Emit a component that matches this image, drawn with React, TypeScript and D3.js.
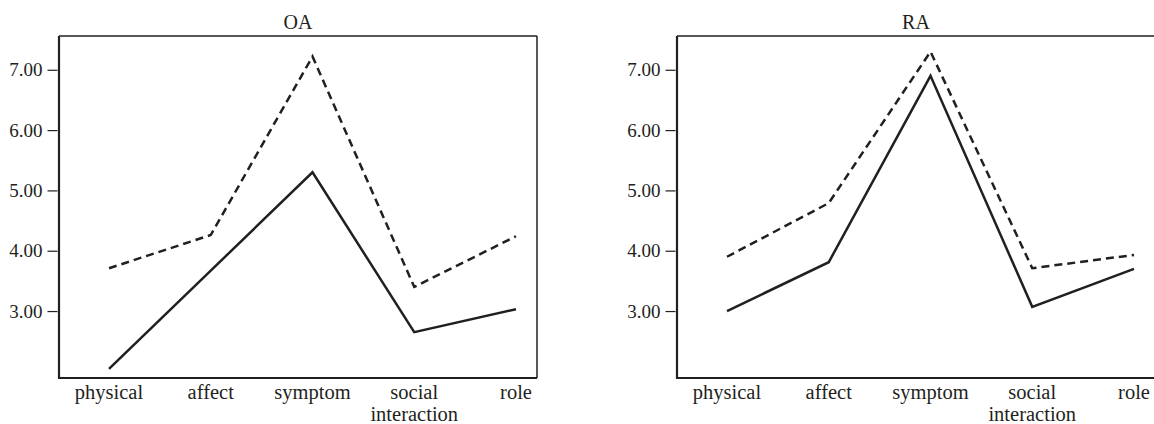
import React, { useEffect, useRef } from 'react'
import * as d3 from 'd3'

const categories = ['physical', 'affect', 'symptom', 'social interaction', 'role']
const panels = ['OA', 'RA']
const oaDashed = [3.71, 4.26, 7.22, 3.4, 4.24]
const oaSolid = [2.04, 3.67, 5.3, 2.65, 3.03]
const raDashed = [3.9, 4.79, 7.3, 3.71, 3.93]
const raSolid = [3.0, 3.81, 6.9, 3.07, 3.7]
const yTicks = [3, 4, 5, 6, 7]

const series = [
    { dashed: oaDashed, solid: oaSolid },
    { dashed: raDashed, solid: raSolid },
]

const W = 1154
const H = 424
const ink = '#231f20'
const font = 'Liberation Serif, Times New Roman, serif'

const App = () => {
    const svgRef = useRef<SVGSVGElement>(null)

    useEffect(() => {
        const svg = d3.select(svgRef.current)
        svg.selectAll('*').remove()

        const frameW = 478
        const top = 36
        const bottom = 378
        const lefts = [59, 677]

        const y = d3.scaleLinear().domain([1.89, 7.56]).range([bottom, top])

        panels.forEach((name, p) => {
            const x0 = lefts[p]
            const x = d3.scalePoint<string>()
                .domain(categories)
                .range([x0 + 50, x0 + 457])
                .padding(0)

            const g = svg.append('g').attr('font-family', font)

            // frame
            g.append('line').attr('x1', x0).attr('x2', x0 + frameW).attr('y1', top).attr('y2', top)
                .attr('stroke', ink).attr('stroke-width', 1.5)
            g.append('line').attr('x1', x0 + frameW).attr('x2', x0 + frameW).attr('y1', top).attr('y2', bottom)
                .attr('stroke', ink).attr('stroke-width', 1.5)
            g.append('line').attr('x1', x0).attr('x2', x0).attr('y1', top).attr('y2', bottom + 1)
                .attr('stroke', ink).attr('stroke-width', 2.2)
            g.append('line').attr('x1', x0).attr('x2', x0 + frameW).attr('y1', bottom).attr('y2', bottom)
                .attr('stroke', ink).attr('stroke-width', 2.2)

            // y axis
            const yAxis = d3.axisLeft(y)
                .tickValues(yTicks)
                .tickFormat(d3.format('.2f'))
                .tickSize(10)
                .tickPadding(5)
            const ax = g.append('g')
                .attr('transform', `translate(${x0 - 1.5},0)`)
                .call(yAxis)
                .attr('font-family', font)
                .attr('font-size', 19)
            ax.select('.domain').remove()
            ax.selectAll('line').attr('stroke', ink).attr('stroke-width', 1.2)
            ax.selectAll('text').attr('fill', ink)

            // category labels
            categories.forEach(c => {
                const words = c.split(' ')
                const t = g.append('text')
                    .attr('x', x(c))
                    .attr('y', 399)
                    .attr('text-anchor', 'middle')
                    .attr('fill', ink)
                    .attr('font-family', font)
                    .attr('font-size', 20.5)
                words.forEach((w, i) => {
                    t.append('tspan').attr('x', x(c)).attr('dy', i === 0 ? 0 : 21.5).text(w)
                })
            })

            // title
            g.append('text')
                .attr('x', x0 + frameW / 2)
                .attr('y', 29)
                .attr('text-anchor', 'middle')
                .attr('fill', ink)
                .attr('font-family', font)
                .attr('font-size', 20)
                .text(name)

            const line = d3.line<number>()
                .x((d, i) => x(categories[i]) as number)
                .y(d => y(d))

            g.append('path')
                .attr('d', line(series[p].dashed))
                .attr('fill', 'none')
                .attr('stroke', ink)
                .attr('stroke-width', 2.5)
                .attr('stroke-dasharray', '8,5')

            g.append('path')
                .attr('d', line(series[p].solid))
                .attr('fill', 'none')
                .attr('stroke', ink)
                .attr('stroke-width', 2.5)
        })
    }, [])

    return (
        <svg
            ref={svgRef}
            width={W}
            height={H}
            style={{ position: 'absolute', left: 0, top: 0, background: '#fff' }}
        />
    )
}

export default App
